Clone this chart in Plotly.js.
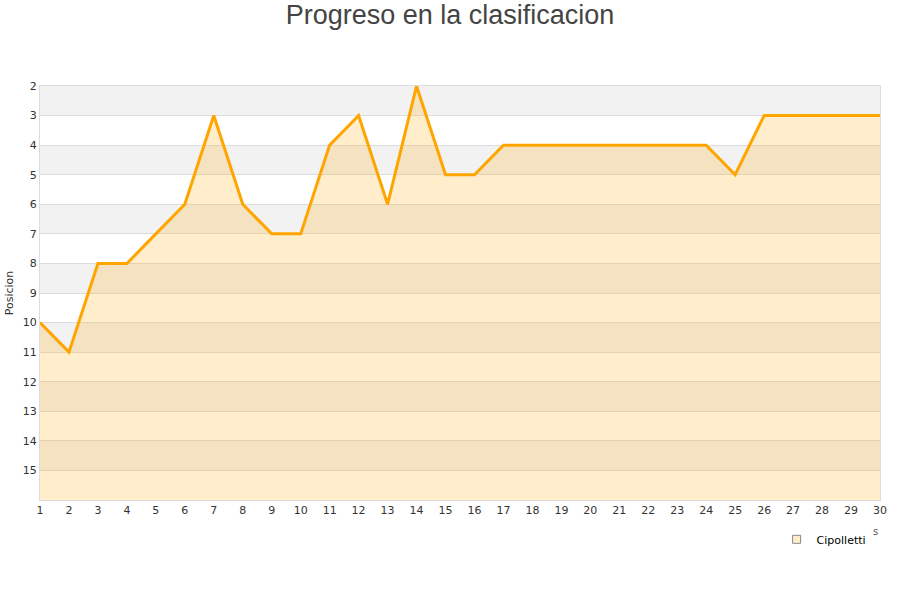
<!DOCTYPE html>
<html><head><meta charset="utf-8">
<script src="https://cdn.plot.ly/plotly-3.0.1.min.js"></script>
<style>body{margin:0;background:#fff}#chart{width:900px;height:600px}</style>
</head><body><div id="chart"></div>
<script>
const jornadas = [1,2,3,4,5,6,7,8,9,10,11,12,13,14,15,16,17,18,19,20,21,22,23,24,25,26,27,28,29,30];
const posicion = [10,11,8,8,7,6,3,6,7,7,4,3,6,2,5,5,4,4,4,4,4,4,4,4,5,3,3,3,3,3];
const yTicks = [2,3,4,5,6,7,8,9,10,11,12,13,14,15];
const teamName = 'Cipolletti';
const yBottom = 16, yTop = 2;

const shapes = [];
for (let v = yTop; v < yBottom; v += 2) {
  shapes.push({type:'rect', xref:'paper', yref:'y', x0:0, x1:1, y0:v, y1:v+1,
    fillcolor:'#f2f2f2', line:{width:0}, layer:'below'});
}

const traces = [
  {x: jornadas, y: jornadas.map(() => yBottom), type:'scatter', mode:'lines',
   line:{width:0, color:'rgba(0,0,0,0)'}, showlegend:false, hoverinfo:'skip'},
  {x: jornadas, y: posicion, type:'scatter', mode:'lines', fill:'tonexty',
   fillcolor:'rgba(255,165,0,0.2)', line:{color:'#ffa500', width:3},
   showlegend:false, hoverinfo:'x+y'},
  {x:[null], y:[null], type:'scatter', mode:'markers', name: teamName,
   marker:{symbol:'square', size:8, color:'#ffedcc', line:{color:'#888', width:1}}}
];

const layout = {
  width:900, height:600,
  margin:{l:40, r:20, t:86, b:100},
  paper_bgcolor:'#fff', plot_bgcolor:'#fff',
  font:{family:'DejaVu Sans', size:11, color:'#333'},
  title:{text:'Progreso en la clasificacion', x:0.5, xanchor:'center', y:0.975, yanchor:'middle',
    font:{family:'Liberation Sans', size:27, color:'#444'}},
  xaxis:{range:[1,30], tickvals:jornadas, ticks:'', showgrid:false, zeroline:false,
    showline:true, linecolor:'#ddd', mirror:true, fixedrange:true,
    tickfont:{size:11, color:'#333'}},
  yaxis:{range:[yBottom,yTop], tickvals:yTicks, ticks:'', showgrid:true, gridcolor:'#dcdcdc',
    zeroline:false, showline:true, linecolor:'#ddd', mirror:true,
    title:{text:'Posicion', font:{size:11, color:'#333'}, standoff:6},
    tickfont:{size:11, color:'#333'}},
  shapes: shapes,
  showlegend:true,
  legend:{x:0.99, xanchor:'right', y:-0.06, yanchor:'top', orientation:'h',
    font:{size:11, color:'#000'}, bgcolor:'rgba(0,0,0,0)'},
  annotations:[{xref:'paper', yref:'paper', x:0.995, y:-0.075, xanchor:'center', yanchor:'middle',
    text:'s', showarrow:false, font:{size:10, color:'#555'}}]
};

Plotly.newPlot('chart', traces, layout, {displayModeBar:false});
</script></body></html>
